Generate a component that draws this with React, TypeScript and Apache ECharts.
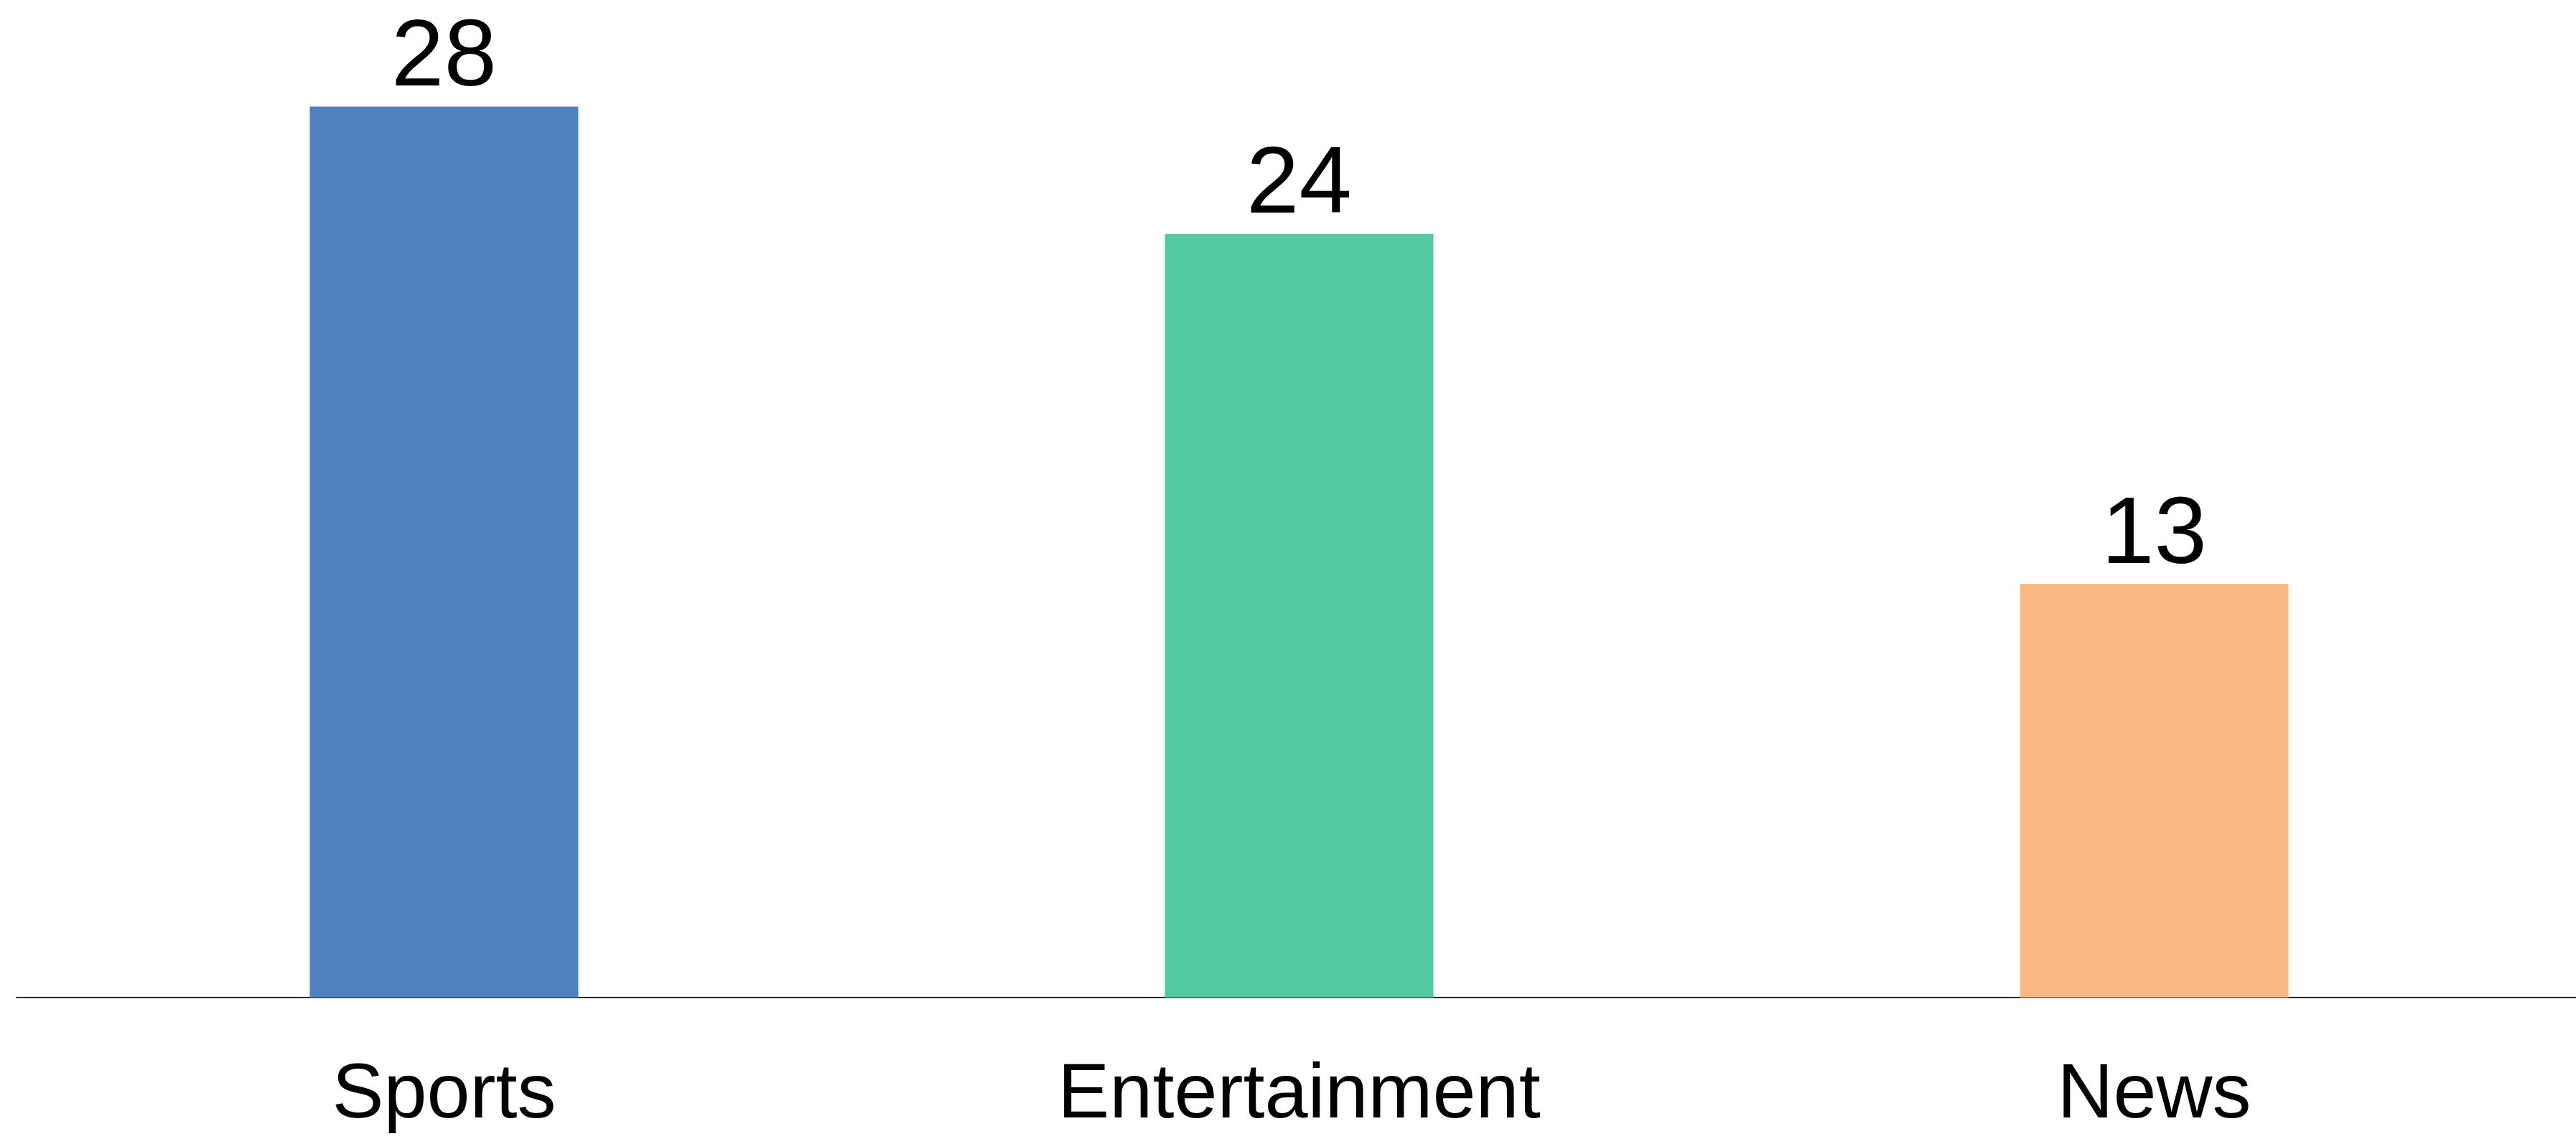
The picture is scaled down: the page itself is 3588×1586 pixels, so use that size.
import React, { useEffect, useRef } from "react";
import * as echarts from "echarts";

const categories = ["Sports", "Entertainment", "News"];
const values = [28, 24, 13];
const barColors = ["#4F81BD", "#52C9A0", "#F8B984"];

export default function App() {
  const ref = useRef<HTMLDivElement>(null);
  useEffect(() => {
    if (!ref.current) return;
    const chart = echarts.init(ref.current, null, { renderer: "svg" });
    chart.setOption({
      animation: false,
      backgroundColor: "#ffffff",
      grid: { left: 23, right: 4, top: 60, bottom: 197, containLabel: false },
      xAxis: {
        type: "category",
        data: categories,
        axisLine: { show: true, lineStyle: { color: "#262626", width: 2 } },
        axisTick: { show: false },
        axisLabel: {
          color: "#000000",
          fontFamily: "Liberation Sans",
          fontSize: 108,
          margin: 75,
        },
      },
      yAxis: {
        type: "value",
        min: 0,
        max: 30,
        show: false,
        splitLine: { show: false },
      },
      series: [
        {
          type: "bar",
          barWidth: 374,
          data: values.map((v, i) => ({ value: v, itemStyle: { color: barColors[i] } })),
          label: {
            show: true,
            position: "top",
            distance: 9,
            color: "#000000",
            fontFamily: "Liberation Sans",
            fontSize: 132,
          },
        },
      ],
    });
    return () => chart.dispose();
  }, []);
  return (
    <div style={{ position: "fixed", left: 0, top: 0, width: "100vw", height: "100vh", overflow: "hidden", background: "#fff" }}>
      <div ref={ref} style={{ width: 3600, height: 1586 }} />
    </div>
  );
}
